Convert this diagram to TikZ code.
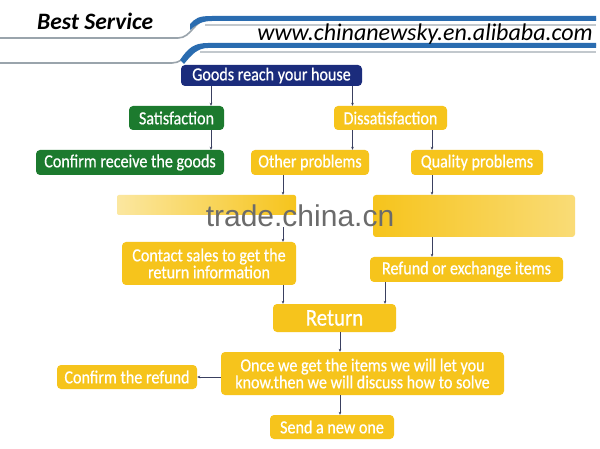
\documentclass[tikz,border=0pt]{standalone}
\usepackage{fontspec}
\setmainfont{Carlito}[FakeStretch=0.87, FakeBold=0.6]
\newfontfamily\hdfont{Carlito}
\newfontfamily\wmfont{Liberation Sans}
\usetikzlibrary{arrows.meta,calc}
\definecolor{navy}{HTML}{1B2C7C}
\definecolor{grn}{HTML}{1C7A2E}
\definecolor{ylw}{HTML}{F6C41C}
\definecolor{ylwl}{HTML}{FBE7A0}
\definecolor{arrc}{HTML}{3A4060}
\definecolor{swblue}{HTML}{2A6CB0}
\definecolor{swgray}{HTML}{9AA4AC}
\tikzset{
  box/.style={rectangle, rounded corners=4pt, inner sep=0pt, text=white, align=center, font=\fontsize{18.5}{17}\selectfont},
  ybox/.style={box, fill=ylw},
  gbox/.style={box, fill=grn},
  arr/.style={draw=arrc, line width=0.6pt, -{Stealth[length=3pt,width=2.6pt]}},
}
\begin{document}
\begin{tikzpicture}[x=1pt,y=-1pt]
\useasboundingbox (0,0) rectangle (600,449);
\fill[white] (0,0) rectangle (600,449);
% header swooshes
\draw[swgray, line width=1.6pt] (0,38) -- (178,38) .. controls (192,38) and (194,19) .. (210,19) -- (596,19);
\fill[swblue] (190,24) .. controls (196,18) and (198,16) .. (212,16) -- (596,16) -- (596,21) -- (212,21) .. controls (202,21) and (197,24) .. (190,30) -- cycle;
\draw[swgray!60, line width=1.2pt] (205,25) -- (596,25);
\draw[swgray, line width=1.6pt] (0,63) -- (172,63) .. controls (186,63) and (190,45) .. (206,45) -- (596,45);
\fill[swblue] (180,60) .. controls (188,48) and (194,43) .. (208,43) -- (596,43) -- (596,48) -- (208,48) .. controls (198,48) and (192,54) .. (184,64) -- cycle;
\draw[swgray!60, line width=1.2pt] (200,52) -- (596,52);
\node[font=\hdfont\fontsize{23.5}{23.5}\selectfont\bfseries\itshape, anchor=west, inner sep=0pt] (title) at (37,21) {Best Service};
\node[font=\hdfont\fontsize{24}{24}\selectfont\itshape, anchor=east, inner sep=0pt] (url) at (593,34) {www.chinanewsky.en.alibaba.com};
% nodes
\node[box, fill=navy, minimum width=181, minimum height=21] (goods) at (271.5,75.5) {Goods reach your house};
\node[gbox, minimum width=95, minimum height=24] (sat) at (176.5,118) {Satisfaction};
\node[ybox, minimum width=113, minimum height=24] (dis) at (390.5,118) {Dissatisfaction};
\node[gbox, minimum width=188, minimum height=25] (conf) at (130,162.5) {Confirm receive the goods};
\node[ybox, minimum width=118, minimum height=25] (other) at (310,162.5) {Other problems};
\node[ybox, minimum width=132, minimum height=25] (qual) at (477,162.5) {Quality problems};
\node[box, minimum width=179, minimum height=20, left color=ylwl, right color=ylw, rounded corners=2pt] (barL) at (206.5,205) {};
\node[box, minimum width=202, minimum height=42, left color=ylw, right color=ylw!60, rounded corners=3pt] (barR) at (474,216) {};
\node[ybox, minimum width=174, minimum height=43] (contact) at (209,263.5) {Contact sales to get the\\return information};
\node[ybox, minimum width=193, minimum height=25] (refund) at (466.5,269.5) {Refund or exchange items};
\node[ybox, minimum width=123, minimum height=28, font=\fontsize{24}{24}\selectfont] (ret) at (334.5,318) {Return};
\node[ybox, minimum width=283, minimum height=43] (once) at (362.5,373.5) {Once we get the items we will let you\\know.then we will discuss how to solve};
\node[ybox, minimum width=140, minimum height=24] (cref) at (127,377) {Confirm the refund};
\node[ybox, minimum width=124, minimum height=24] (send) at (332,427) {Send a new one};
\node[font=\wmfont\fontsize{30}{30}\selectfont, text=black!58] (wm) at (300,216) {trade.china.cn};
% arrow columns
\coordinate (xA) at (211,0);
\coordinate (xB) at (352.5,0);
\coordinate (xC) at (432,0);
\coordinate (xD) at (283,0);
\coordinate (xE) at (385,0);
\coordinate (xF) at (340,0);
\draw[arr] (goods.south -| xA) -- (sat.north -| xA);
\draw[arr] (goods.south -| xB) -- (dis.north -| xB);
\draw[arr] (sat.south -| xA) -- (conf.north -| xA);
\draw[arr] (dis.south -| xB) -- (other.north -| xB);
\draw[arr] (dis.south -| xC) -- (qual.north -| xC);
\draw[arr] (other.south -| xD) -- (barL.north -| xD);
\draw[arr] (barL.south -| xD) ++(0,12) -- (contact.north -| xD);
\draw[arr] (qual.south -| xC) -- (barR.north -| xC);
\draw[arr] (barR.south -| xC) -- (refund.north -| xC);
\draw[arr] (contact.south -| xD) -- (ret.north -| xD);
\draw[arr] (refund.south -| xE) -- (ret.north -| xE);
\draw[arr] (ret.south -| xF) -- (once.north -| xF);
\draw[arr] (once.south -| xF) -- (send.north -| xF);
\draw[arr] (once.west |- cref.east) -- (cref.east);
\end{tikzpicture}
\end{document}
